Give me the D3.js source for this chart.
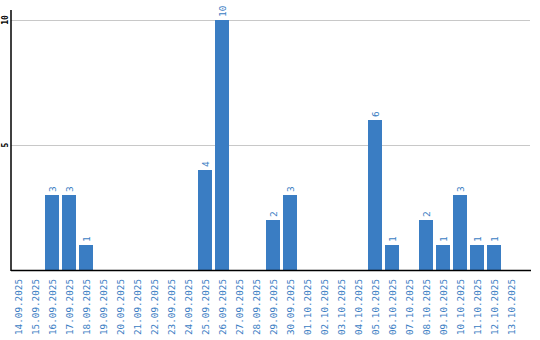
<!DOCTYPE html>
<html>
<head>
<meta charset="utf-8">
<script src="https://cdn.jsdelivr.net/npm/d3@7"></script>
<style>
  body { margin: 0; background: #fff; }
  svg { display: block; }
</style>
</head>
<body>
<div id="chart"></div>
<script>
var dates = ['14.09.2025', '15.09.2025', '16.09.2025', '17.09.2025', '18.09.2025',
  '19.09.2025', '20.09.2025', '21.09.2025', '22.09.2025', '23.09.2025',
  '24.09.2025', '25.09.2025', '26.09.2025', '27.09.2025', '28.09.2025',
  '29.09.2025', '30.09.2025', '01.10.2025', '02.10.2025', '03.10.2025',
  '04.10.2025', '05.10.2025', '06.10.2025', '07.10.2025', '08.10.2025',
  '09.10.2025', '10.10.2025', '11.10.2025', '12.10.2025', '13.10.2025'];
var counts = [0, 0, 3, 3, 1, 0, 0, 0, 0, 0, 0, 4, 10, 0, 0, 2, 3, 0, 0, 0, 0, 6, 1, 0, 2, 1, 3, 1, 1, 0];
var yTicks = [5, 10];

var width = 540, height = 340;
var plotLeft = 11, plotBottom = 270, plotTop = 20;
var barColor = '#3a7dc3';
var mono = '"DejaVu Sans Mono", monospace';

var svg = d3.select('#chart').append('svg')
  .attr('width', width)
  .attr('height', height);

// step 17, bar 14 wide
var x = d3.scaleBand()
  .domain(dates)
  .range([plotLeft, plotLeft + 17 * dates.length - 3])
  .paddingInner(3 / 17)
  .paddingOuter(0);

var y = d3.scaleLinear()
  .domain([0, 10])
  .range([plotBottom, plotTop]);

var data = dates.map(function (d, i) { return { date: d, value: counts[i] }; });
var nonZero = data.filter(function (d) { return d.value > 0; });

// grid lines
svg.append('g')
  .selectAll('line')
  .data(yTicks)
  .enter().append('line')
  .attr('x1', plotLeft)
  .attr('x2', 530)
  .attr('y1', function (d) { return y(d) + 0.5; })
  .attr('y2', function (d) { return y(d) + 0.5; })
  .attr('stroke', '#c8c8c8')
  .attr('stroke-width', 1);

// bars
svg.append('g')
  .selectAll('rect')
  .data(nonZero)
  .enter().append('rect')
  .attr('x', function (d) { return x(d.date); })
  .attr('width', x.bandwidth())
  .attr('y', function (d) { return y(d.value); })
  .attr('height', function (d) { return plotBottom - y(d.value); })
  .attr('fill', barColor);

// value labels
svg.append('g')
  .selectAll('text')
  .data(nonZero)
  .enter().append('text')
  .attr('transform', function (d) {
    return 'translate(' + (x(d.date) + x.bandwidth() / 2 + 4) + ',' + (y(d.value) - 3) + ') rotate(-90)';
  })
  .attr('font-family', mono)
  .attr('font-size', 9.5)
  .attr('fill', barColor)
  .text(function (d) { return d.value; });

// axes
svg.append('line')
  .attr('x1', plotLeft).attr('x2', plotLeft)
  .attr('y1', 10).attr('y2', plotBottom + 1)
  .attr('stroke', '#000').attr('stroke-width', 1.5);
svg.append('line')
  .attr('x1', plotLeft).attr('x2', 531)
  .attr('y1', plotBottom + 0.5).attr('y2', plotBottom + 0.5)
  .attr('stroke', '#000').attr('stroke-width', 1.5);

// y tick labels
svg.append('g')
  .selectAll('text')
  .data(yTicks)
  .enter().append('text')
  .attr('transform', function (d) { return 'translate(8,' + y(d) + ') rotate(-90)'; })
  .attr('text-anchor', 'middle')
  .attr('font-family', mono)
  .attr('font-size', 8)
  .attr('font-weight', 'bold')
  .attr('fill', '#000')
  .text(function (d) { return d; });

// x tick labels
svg.append('g')
  .selectAll('text')
  .data(dates)
  .enter().append('text')
  .attr('transform', function (d) {
    return 'translate(' + (x(d) + x.bandwidth() / 2 + 4) + ',' + (plotBottom + 9) + ') rotate(-90)';
  })
  .attr('text-anchor', 'end')
  .attr('font-family', mono)
  .attr('font-size', 9.3)
  .attr('fill', barColor)
  .text(function (d) { return d; });
</script>
</body>
</html>
